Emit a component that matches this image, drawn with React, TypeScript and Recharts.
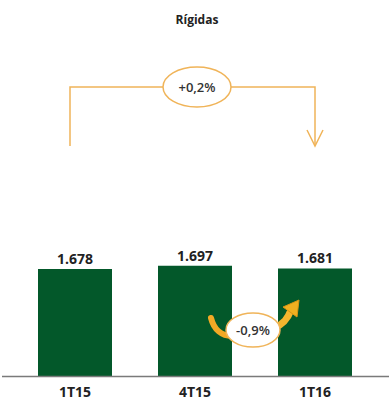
import React from 'react';
import { BarChart, Bar, XAxis, YAxis, LabelList } from 'recharts';

const categories = ['1T15', '4T15', '1T16'];
const values = [1678, 1697, 1681];
const valueLabels = ['1.678', '1.697', '1.681'];
const title = 'Rígidas';
const changeTop = '+0,2%';
const changeBottom = '-0,9%';

const data = categories.map((c, i) => ({ name: c, value: values[i], label: valueLabels[i] }));

const ORANGE = '#f0b459';
const GREEN = '#03582a';
const FONT = '"Open Sans", sans-serif';

const Annotations = () => (
  <svg width={389} height={400} style={{ position: 'absolute', left: 0, top: 0, pointerEvents: 'none' }}>
    <text x={197} y={24} textAnchor="middle" fontFamily={FONT} fontWeight={700} fontSize={12} fill="#222">{title}</text>
    <path d="M70,146 L70,87 L163,87" fill="none" stroke={ORANGE} strokeWidth={1.5} />
    <path d="M231,87 L315,87 L315,146" fill="none" stroke={ORANGE} strokeWidth={1.5} />
    <path d="M307,130 L315,146 L323,130" fill="none" stroke={ORANGE} strokeWidth={1.5} />
    <ellipse cx={197} cy={87} rx={34} ry={20} fill="#fff" stroke={ORANGE} strokeWidth={1.5} />
    <text x={197} y={92} textAnchor="middle" fontFamily={FONT} fontWeight={600} fontSize={13} fill="#333">{changeTop}</text>
    <path d="M211,318 C214,330 222,336 232,336" fill="none" stroke="#f2a925" strokeWidth={6} strokeLinecap="round" />
    <path d="M274,328 C284,324 288,318 291,310" fill="none" stroke="#f4b52e" strokeWidth={7} />
    <polygon points="283,307 299,300 297,317" fill="#f0b020" stroke="#d99514" strokeWidth={1} />
    <ellipse cx={253} cy={330} rx={27} ry={17} fill="#fff" stroke={ORANGE} strokeWidth={1.5} />
    <text x={253} y={335} textAnchor="middle" fontFamily={FONT} fontWeight={600} fontSize={13} fill="#333">{changeBottom}</text>
    <line x1={2} y1={376.5} x2={389} y2={376.5} stroke="#7a7a7a" strokeWidth={1.5} />
  </svg>
);

export default function App() {
  return (
    <div style={{ position: 'absolute', left: 0, top: 0, width: 389, height: 400, background: '#fff' }}>
      <BarChart width={389} height={400} data={data} margin={{ top: 218, right: 0, bottom: 0, left: 0 }}>
        <XAxis
          dataKey="name"
          height={24}
          axisLine={false}
          tickLine={false}
          padding={{ left: 15, right: 14 }}
          tickMargin={5}
          tick={{ fontFamily: FONT, fontWeight: 700, fontSize: 14, fill: '#222' }}
          interval={0}
        />
        <YAxis hide domain={[1000, 2000]} allowDataOverflow />
        <Bar dataKey="value" fill={GREEN} barSize={74} isAnimationActive={false}>
          <LabelList dataKey="label" position="top" offset={5} style={{ fontFamily: FONT, fontWeight: 700, fontSize: 14, fill: '#222' }} />
        </Bar>
      </BarChart>
      <Annotations />
    </div>
  );
}
